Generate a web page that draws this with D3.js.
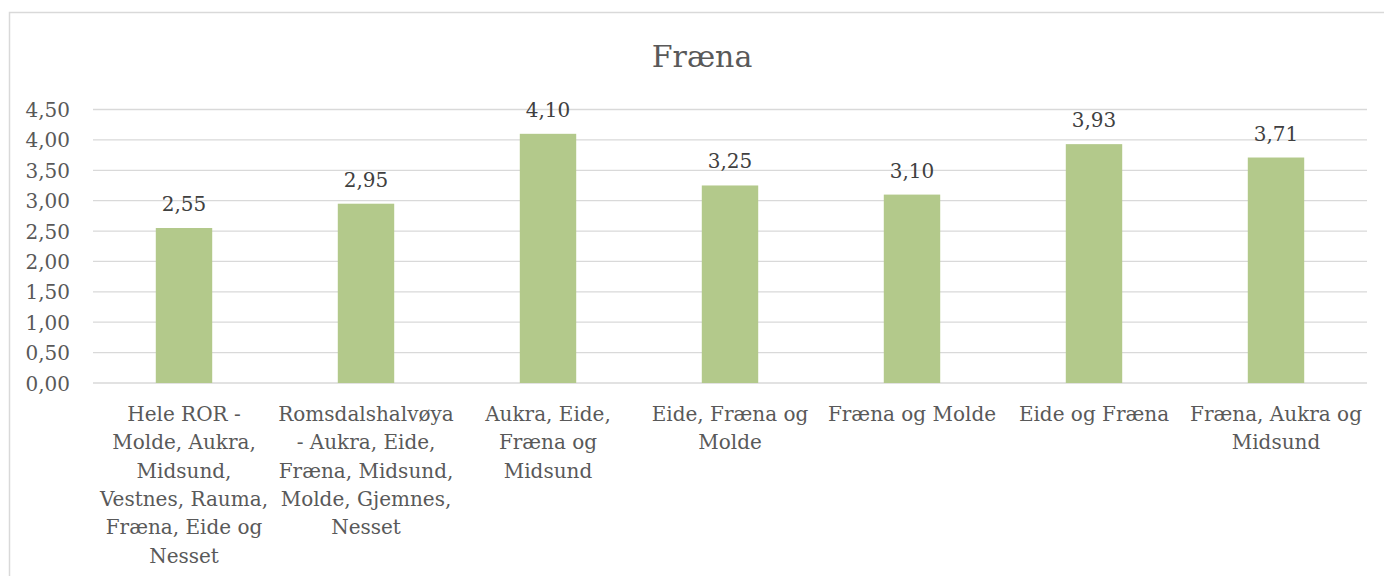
<!DOCTYPE html>
<html>
<head>
<meta charset="utf-8">
<script src="https://cdn.jsdelivr.net/npm/d3@7"></script>
<style>
  body { margin: 0; background: #fff; }
  svg text { font-family: "DejaVu Serif", serif; }
</style>
</head>
<body>
<svg id="chart" width="1384" height="576"></svg>
<script>
// chart data
const title = 'Fræna';
const categories = [
    'Hele ROR -\nMolde, Aukra,\nMidsund,\nVestnes, Rauma,\nFræna, Eide og\nNesset',
    'Romsdalshalvøya\n- Aukra, Eide,\nFræna, Midsund,\nMolde, Gjemnes,\nNesset',
    'Aukra, Eide,\nFræna og\nMidsund',
    'Eide, Fræna og\nMolde',
    'Fræna og Molde',
    'Eide og Fræna',
    'Fræna, Aukra og\nMidsund'
];
const values = [2.55, 2.95, 4.10, 3.25, 3.10, 3.93, 3.71];
const tickValues = [0, 0.5, 1, 1.5, 2, 2.5, 3, 3.5, 4, 4.5];

// layout
const plot = { left: 93, right: 1367, top: 109.5, bottom: 383 };
const fmt = d => d3.format('.2f')(d).replace('.', ',');

const svg = d3.select('#chart');

// chart border
svg.append('rect')
    .attr('x', 9.5).attr('y', 12.5)
    .attr('width', 1384).attr('height', 600)
    .attr('fill', 'none')
    .attr('stroke', '#d9d9d9')
    .attr('stroke-width', 1.5);

const x = d3.scaleBand()
    .domain(d3.range(categories.length))
    .range([plot.left, plot.right])
    .paddingInner(0.69)
    .paddingOuter(0.345);

const y = d3.scaleLinear()
    .domain([0, 4.5])
    .range([plot.bottom, plot.top]);

// gridlines
svg.append('g')
    .selectAll('line')
    .data(tickValues)
    .enter().append('line')
    .attr('x1', plot.left).attr('x2', plot.right)
    .attr('y1', d => y(d)).attr('y2', d => y(d))
    .attr('stroke', '#d9d9d9')
    .attr('stroke-width', 1.3);

// y axis labels
const yAxis = svg.append('g')
    .attr('transform', 'translate(70,0)')
    .call(d3.axisLeft(y).tickValues(tickValues).tickFormat(fmt).tickSize(0).tickPadding(0));
yAxis.select('.domain').remove();
yAxis.selectAll('text')
    .attr('fill', '#595959')
    .style('font-size', '20px')
    .attr('dy', '0.35em');

// bars
svg.append('g')
    .selectAll('rect')
    .data(values)
    .enter().append('rect')
    .attr('x', (d, i) => x(i))
    .attr('width', x.bandwidth())
    .attr('y', d => y(d))
    .attr('height', d => y(0) - y(d))
    .attr('fill', '#b3c98b');

// data labels
svg.append('g')
    .selectAll('text')
    .data(values)
    .enter().append('text')
    .attr('x', (d, i) => x(i) + x.bandwidth() / 2)
    .attr('y', d => y(d) - 17)
    .attr('text-anchor', 'middle')
    .attr('fill', '#404040')
    .style('font-size', '20px')
    .text(fmt);

// category labels
const cat = svg.append('g')
    .selectAll('text')
    .data(categories)
    .enter().append('text')
    .attr('text-anchor', 'middle')
    .attr('fill', '#595959')
    .style('font-size', '20px');
cat.each(function (d, i) {
    const cx = x(i) + x.bandwidth() / 2;
    d3.select(this).selectAll('tspan')
        .data(d.split('\n'))
        .enter().append('tspan')
        .attr('x', cx)
        .attr('y', (s, j) => 421 + j * 28.3)
        .text(s => s);
});

// title
svg.append('text')
    .attr('x', 702)
    .attr('y', 67)
    .attr('text-anchor', 'middle')
    .attr('fill', '#595959')
    .style('font-size', '30px')
    .text(title);
</script>
</body>
</html>
